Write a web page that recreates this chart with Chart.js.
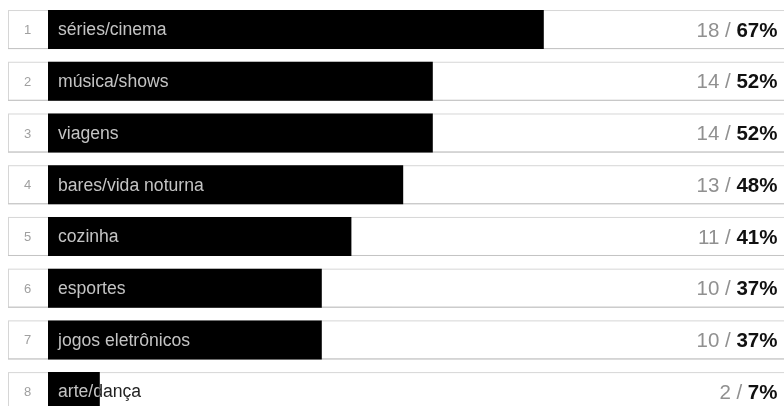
<!DOCTYPE html>
<html>
<head>
<meta charset="utf-8">
<script src="https://cdn.jsdelivr.net/npm/chart.js@4"></script>
<style>
  html, body { margin: 0; padding: 0; background: #fff; }
  #wrap { width: 784px; height: 406px; overflow: hidden; position: relative; }
  #wrap canvas { position: absolute; left: 0; top: 0; }
</style>
</head>
<body>
<div id="wrap"><canvas id="ranking" width="800" height="420"></canvas></div>
<script>
"use strict";
const categories = [
  "séries/cinema",
  "música/shows",
  "viagens",
  "bares/vida noturna",
  "cozinha",
  "esportes",
  "jogos eletrônicos",
  "arte/dança",
];
const counts = [18, 14, 14, 13, 11, 10, 10, 2];
const percents = [67, 52, 52, 48, 41, 37, 37, 7];

const FONT = "Arial, 'Liberation Sans', sans-serif";

// white cards with a small numbered box on the left
const cardsPlugin = {
  id: "cards",
  beforeDatasetsDraw(chart) {
    const ctx = chart.ctx;
    const meta = chart.getDatasetMeta(0);
    ctx.save();
    meta.data.forEach((bar, i) => {
      const h = bar.height;
      const top = bar.y - h / 2;
      ctx.fillStyle = "#fff";
      ctx.fillRect(8, top, 800, h);
      ctx.strokeStyle = "#d6d6d6";
      ctx.lineWidth = 1;
      ctx.strokeRect(8.5, top + 0.5, 800, h - 1);
      ctx.strokeStyle = "#c4c4c4";
      ctx.beginPath();
      ctx.moveTo(8, top + h - 0.5);
      ctx.lineTo(800, top + h - 0.5);
      ctx.stroke();
      ctx.fillStyle = "#a0a0a0";
      ctx.font = "13px " + FONT;
      ctx.textAlign = "center";
      ctx.textBaseline = "middle";
      ctx.fillText(String(i + 1), 27.5, bar.y + 1);
    });
    ctx.restore();
  },
  afterDatasetsDraw(chart) {
    const ctx = chart.ctx;
    const meta = chart.getDatasetMeta(0);
    ctx.save();
    meta.data.forEach((bar, i) => {
      const h = bar.height;
      const top = bar.y - h / 2;
      ctx.font = "17.6px " + FONT;
      ctx.textAlign = "left";
      ctx.textBaseline = "middle";
      // part of the label over the bar
      ctx.save();
      ctx.beginPath();
      ctx.rect(bar.base, top, bar.x - bar.base, h);
      ctx.clip();
      ctx.fillStyle = "#c4c4c4";
      ctx.fillText(categories[i], 58, bar.y + 1);
      ctx.restore();
      // part of the label outside the bar
      ctx.save();
      ctx.beginPath();
      ctx.rect(bar.x, top, 800, h);
      ctx.clip();
      ctx.fillStyle = "#222";
      ctx.fillText(categories[i], 58, bar.y + 1);
      ctx.restore();

      // count / percent at the right
      ctx.textAlign = "right";
      ctx.font = "bold 20.5px " + FONT;
      const pct = percents[i] + "%";
      const pw = ctx.measureText(pct).width;
      ctx.fillStyle = "#111";
      ctx.fillText(pct, 777.5, bar.y + 1.5);
      ctx.font = "20.5px " + FONT;
      ctx.fillStyle = "#909090";
      ctx.fillText(counts[i] + " / ", 777.5 - pw, bar.y + 1.5);
    });
    ctx.restore();
  },
};

const ctx = document.getElementById("ranking").getContext("2d");
new Chart(ctx, {
  type: "bar",
  data: {
    labels: categories,
    datasets: [
      {
        data: percents,
        backgroundColor: "#000",
        borderWidth: 0,
        barPercentage: 0.755,
        categoryPercentage: 1,
      },
    ],
  },
  options: {
    indexAxis: "y",
    responsive: false,
    animation: false,
    layout: { padding: { left: 48, right: 12, top: 3.7, bottom: 2.5 } },
    scales: {
      x: { display: false, min: 0, max: 100 },
      y: { display: false },
    },
    plugins: { legend: { display: false }, tooltip: { enabled: false } },
  },
  plugins: [cardsPlugin],
});
</script>
</body>
</html>
